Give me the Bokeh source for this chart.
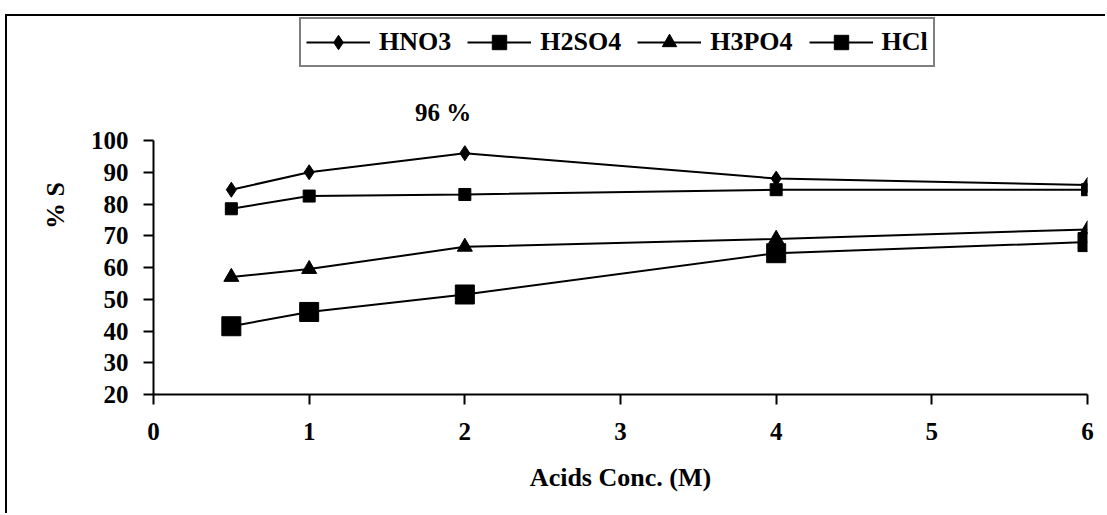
from bokeh.plotting import figure
from bokeh.models import Range1d, FixedTicker, Legend, LegendItem, Label
from bokeh.embed import file_html
from bokeh.resources import INLINE

# ---- data ----
conc = [0.5, 1, 2, 4, 6]
hno3 = [84.5, 90, 96, 88, 86]
h2so4 = [78.5, 82.5, 83, 84.5, 84.5]
h3po4 = [57, 59.5, 66.5, 69, 72]
hcl = [41.5, 46, 51.5, 64.5, 68]
series_names = ["HNO3", "H2SO4", "H3PO4", "HCl"]
x_ticks = [0, 1, 2, 3, 4, 5, 6]
y_ticks = [20, 30, 40, 50, 60, 70, 80, 90, 100]
peak_label = "96 %"

FONT = "Liberation Serif"

W, H = 1100, 499  # canvas after 7px left / 16px top offset
bottom_border = H - (394 - 16)
frame_h = H - bottom_border
y_top = 20 + 80 * frame_h / 254.0

p = figure(width=W, height=H, output_backend="svg", toolbar_location=None,
           x_range=Range1d(0, 6), y_range=Range1d(20, y_top),
           min_border_left=146, min_border_right=W - (1087 - 7),
           min_border_top=0, min_border_bottom=bottom_border)
p.styles = {"margin-left": "5px", "margin-top": "14px",
            "border-left": "2px solid black", "border-top": "2px solid black"}
p.outline_line_color = None
p.xgrid.visible = False
p.ygrid.visible = False
p.background_fill_color = "white"
p.border_fill_color = "white"

for ax, ticks in ((p.xaxis[0], x_ticks), (p.yaxis[0], y_ticks)):
    ax.ticker = FixedTicker(ticks=ticks)
    ax.minor_tick_line_color = None
    ax.major_tick_in = 0
    ax.major_tick_out = 10
    ax.axis_line_width = 2
    ax.major_tick_line_width = 2
    ax.axis_line_color = "black"
    ax.major_tick_line_color = "black"
    ax.major_label_text_font = FONT
    ax.major_label_text_font_style = "bold"
    ax.major_label_text_font_size = "25px"
    ax.major_label_text_color = "black"
    ax.axis_label_text_font = FONT
    ax.axis_label_text_font_style = "bold"
    ax.axis_label_text_font_size = "26px"
    ax.axis_label_text_color = "black"

p.yaxis.bounds = (20, 100)
p.xaxis.bounds = (0, 6)
p.xaxis.axis_label = "Acids Conc. (M)"
p.yaxis.axis_label = "% S"
p.xaxis.major_label_standoff = 18
p.yaxis.major_label_standoff = 15
p.xaxis.axis_label_standoff = 20
p.yaxis.axis_label_standoff = 18

lw = 2
r1l = p.line(conc, hno3, line_color="black", line_width=lw)
r1m = p.scatter(conc, hno3, marker="diamond", size=15,
                fill_color="black", line_color="black")
r2l = p.line(conc, h2so4, line_color="black", line_width=lw)
r2m = p.scatter(conc, h2so4, marker="square", size=12,
                fill_color="black", line_color="black")
r3l = p.line(conc, h3po4, line_color="black", line_width=lw)
r3m = p.scatter(conc, h3po4, marker="triangle", size=15,
                fill_color="black", line_color="black")
r4l = p.line(conc, hcl, line_color="black", line_width=lw)
r4m = p.scatter(conc, hcl, marker="square", size=19,
                fill_color="black", line_color="black")

items = [LegendItem(label=series_names[0], renderers=[r1l, r1m]),
         LegendItem(label=series_names[1], renderers=[r2l, r2m]),
         LegendItem(label=series_names[2], renderers=[r3l, r3m]),
         LegendItem(label=series_names[3], renderers=[r4l, r4m])]
legend = Legend(items=items, orientation="horizontal",
                location=(146, 327),
                glyph_width=64, glyph_height=36,
                label_standoff=9, spacing=16, padding=5, margin=0,
                label_text_font=FONT, label_text_font_style="bold",
                label_text_font_size="26px", label_text_color="black",
                border_line_color="black", border_line_width=2,
                background_fill_color="white", background_fill_alpha=1)
p.add_layout(legend, "center")

p.add_layout(Label(x=1.86, y=108.8, text=peak_label, text_align="center",
                   text_baseline="middle", text_font=FONT,
                   text_font_style="bold", text_font_size="25px",
                   text_color="black"))

open("out.html", "w").write(file_html(p, INLINE))
